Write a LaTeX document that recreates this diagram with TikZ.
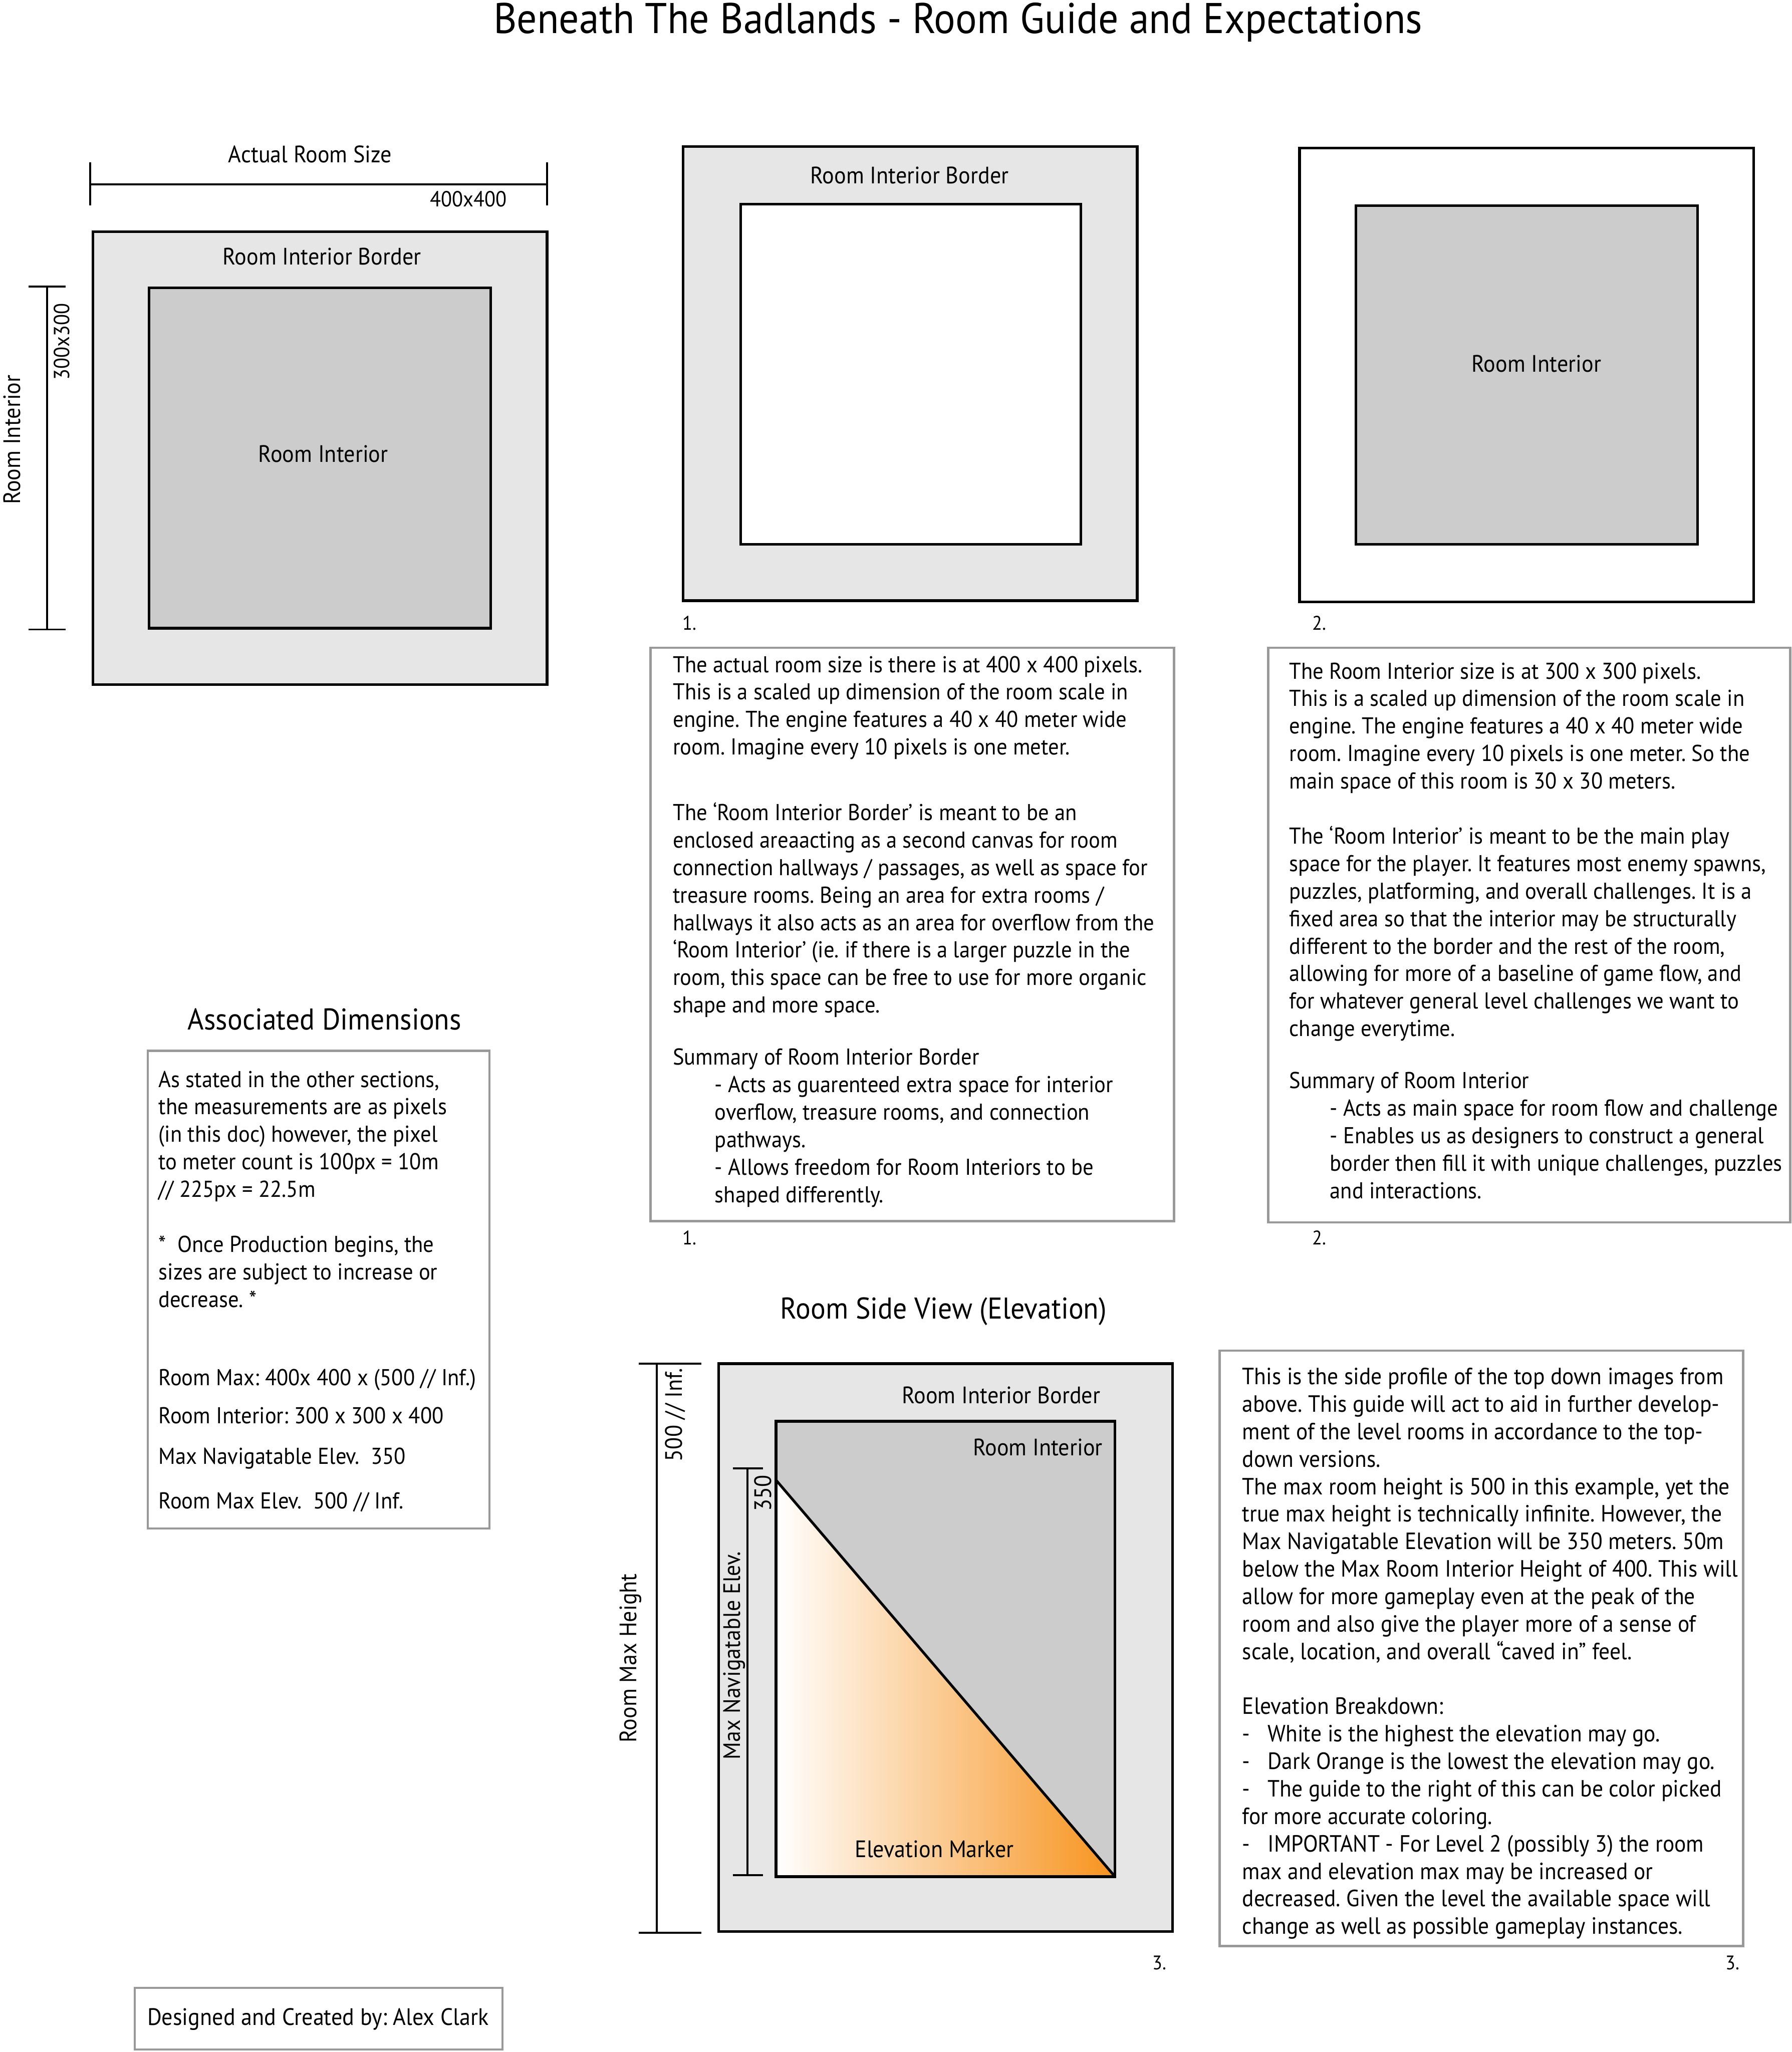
\documentclass[tikz,border=0pt]{standalone}
\usepackage{fontspec}
\setmainfont{PT Sans}[FakeStretch=0.93]
\usetikzlibrary{positioning}
\frenchspacing
\definecolor{bordgray}{HTML}{E6E6E6}
\definecolor{intgray}{HTML}{CCCCCC}
\definecolor{boxgray}{HTML}{999999}
\definecolor{elevorange}{HTML}{F7931E}
\newcommand{\bodyfont}{\fontsize{14}{16.76}\selectfont}
\newcommand{\lblfont}{\fontsize{14.5}{17}\selectfont}
\newcommand{\headfont}{\fontsize{18.3}{22}\selectfont}
\tikzset{
  room/.style={draw,line width=1.6pt},
  notebox/.style={draw=boxgray,line width=1.4pt},
  dimline/.style={line width=1.2pt},
  lbl/.style={inner sep=0,font=\lblfont},
  num/.style={inner sep=0,font=\fontsize{12}{14}\selectfont},
  para/.style={anchor=north west,align=left,inner sep=0,font=\bodyfont},
}

\begin{document}
\begin{tikzpicture}[x=0.02805cm,y=-0.02805cm]
\useasboundingbox (0,0) rectangle (1369,1568);

\node[inner sep=0,font=\fontsize{26.2}{31}\selectfont] (title) at (732,17) {Beneath The Badlands - Room Guide and Expectations};

% top down room with dimensions
\draw[dimline] (69,141) -- (418,141);
\foreach \x in {69,418}{
  \draw[dimline] (\x,124) -- (\x,157);
}
\node[lbl] (actsize) at (237,118) {Actual Room Size};
\node[lbl,font=\fontsize{13.3}{16}\selectfont] (sizea) at (358,152) {400x400};
\draw[dimline] (36,219) -- (36,481);
\foreach \y in {219,481}{
  \draw[dimline] (22,\y) -- (50,\y);
}
\node[lbl,rotate=90,font=\fontsize{13.3}{16}\selectfont] (sizeb) at (47,261) {300x300};
\node[lbl,rotate=90] (intside) at (9,336) {Room Interior};
\draw[room,fill=bordgray] (71,177) rectangle (418,523);
\draw[room,fill=intgray] (114,220) rectangle (375,480);
\node[lbl] (bordA) at (246,196) {Room Interior Border};
\node[lbl] (intA) at (247,347) {Room Interior};

% panel 1 and 2
\draw[room,fill=bordgray] (522,112) rectangle (869,459);
\draw[room,fill=white] (566,156) rectangle (826,416);
\node[lbl] (bordB) at (695,134) {Room Interior Border};
\draw[room,fill=white] (993,113) rectangle (1340,460);
\draw[room,fill=intgray] (1036,157) rectangle (1297,416);
\node[lbl] (intC) at (1174,278) {Room Interior};
\node[num] (n1a) at (527,476) {1.};
\node[num] (n2a) at (1008,476) {2.};

% text box 1
\draw[notebox] (497,495) rectangle (897,933);
\node[para] (pa) at (514,501) {The actual room size is there is at 400 x 400 pixels.\\
This is a scaled up dimension of the room scale in\\
engine. The engine features a 40 x 40 meter wide\\
room. Imagine every 10 pixels is one meter.};
\node[para] (pb) at (514,613) {The ‘Room Interior Border’ is meant to be an\\
enclosed areaacting as a second canvas for room\\
connection hallways / passages, as well as space for\\
treasure rooms. Being an area for extra rooms /\\
hallways it also acts as an area for overflow from the\\
‘Room Interior’ (ie. if there is a larger puzzle in the\\
room, this space can be free to use for more organic\\
shape and more space.};
\node[para] (pc) at (514,801) {Summary of Room Interior Border};
\node[para] (pd) at (546,822) {- Acts as guarenteed extra space for interior\\
overflow, treasure rooms, and connection\\
pathways.\\
- Allows freedom for Room Interiors to be\\
shaped differently.};
\node[num] (n1b) at (527,946) {1.};

% text box 2
\draw[notebox] (969,495) rectangle (1368,934);
\node[para] (qa) at (985,506) {The Room Interior size is at 300 x 300 pixels.\\
This is a scaled up dimension of the room scale in\\
engine. The engine features a 40 x 40 meter wide\\
room. Imagine every 10 pixels is one meter. So the\\
main space of this room is 30 x 30 meters.};
\node[para] (qb) at (985,631) {The ‘Room Interior’ is meant to be the main play\\
space for the player. It features most enemy spawns,\\
puzzles, platforming, and overall challenges. It is a\\
fixed area so that the interior may be structurally\\
different to the border and the rest of the room,\\
allowing for more of a baseline of game flow, and\\
for whatever general level challenges we want to\\
change everytime.};
\node[para] (qc) at (985,819) {Summary of Room Interior};
\node[para] (qd) at (1016,840) {- Acts as main space for room flow and challenge\\
- Enables us as designers to construct a general\\
border then fill it with unique challenges, puzzles\\
and interactions.};
\node[num] (n2b) at (1008,946) {2.};

% associated dimensions
\node[inner sep=0,font=\headfont] (assoc) at (248,779) {Associated Dimensions};
\draw[notebox] (113,803) rectangle (374,1168);
\node[para] (ra) at (121,818) {As stated in the other sections,\\
the measurements are as pixels\\
(in this doc) however, the pixel\\
to meter count is 100px = 10m\\
// 225px = 22.5m};
\node[para] (rb) at (121,944) {*\ \ Once Production begins, the\\
sizes are subject to increase or\\
decrease. *};
\node[para] (rc) at (121,1046) {Room Max: 400x 400 x (500 // Inf.)};
\node[para] (rd) at (121,1075) {Room Interior: 300 x 300 x 400};
\node[para] (re) at (121,1106) {Max Navigatable Elev.\ \ 350};
\node[para] (rf) at (121,1140) {Room Max Elev.\ \ 500 // Inf.};

% side view
\node[inner sep=0,font=\headfont] (side) at (721,1002) {Room Side View (Elevation)};
\draw[room,fill=bordgray] (549,1042) rectangle (896,1476);
\draw[room,fill=intgray] (593,1086) rectangle (852,1434);
\shade[left color=white,middle color=elevorange!32,right color=elevorange] (593,1131) -- (852,1434) -- (593,1434) -- cycle;
\draw[room] (593,1131) -- (852,1434);
\draw[room] (593,1086) rectangle (852,1434);
\node[lbl] (bordD) at (765,1066) {Room Interior Border};
\node[lbl] (intD) at (793,1106) {Room Interior};
\node[lbl] (marker) at (714,1413) {Elevation Marker};
\draw[dimline] (502,1042) -- (502,1477);
\foreach \y in {1042,1477}{
  \draw[dimline] (488,\y) -- (536,\y);
}
\node[lbl,rotate=90] (maxh) at (516,1081) {500 // Inf.};
\node[lbl,rotate=90] (maxhl) at (482,1267) {Room Max Height};
\draw[dimline] (571,1122) -- (571,1433);
\foreach \y in {1122,1433}{
  \draw[dimline] (560,\y) -- (583,\y);
}
\node[lbl,rotate=90] (nav) at (583,1141) {350};
\node[lbl,rotate=90] (navl) at (561,1265) {Max Navigatable Elev.};
\node[num] (n3a) at (886,1500) {3.};

% text box 3
\draw[notebox] (932,1032) rectangle (1332,1487);
\node[para,font=\fontsize{14.3}{16.76}\selectfont] (sa) at (949,1045) {This is the side profile of the top down images from\\
above. This guide will act to aid in further develop-\\
ment of the level rooms in accordance to the top-\\
down versions.\\
The max room height is 500 in this example, yet the\\
true max height is technically infinite. However, the\\
Max Navigatable Elevation will be 350 meters. 50m\\
below the Max Room Interior Height of 400. This will\\
allow for more gameplay even at the peak of the\\
room and also give the player more of a sense of\\
scale, location, and overall “caved in” feel.};
\node[para,font=\fontsize{14.3}{16.76}\selectfont] (sb) at (949,1297) {Elevation Breakdown:\\
-\hspace{0.75em}White is the highest the elevation may go.\\
-\hspace{0.75em}Dark Orange is the lowest the elevation may go.\\
-\hspace{0.75em}The guide to the right of this can be color picked\\
for more accurate coloring.\\
-\hspace{0.75em}IMPORTANT - For Level 2 (possibly 3) the room\\
max and elevation max may be increased or\\
decreased. Given the level the available space will\\
change as well as possible gameplay instances.};
\node[num] (n3b) at (1324,1500) {3.};

% credit
\draw[notebox] (103,1519) rectangle (384,1566);
\node[lbl] (credit) at (243,1543) {Designed and Created by: Alex Clark};
\end{tikzpicture}
\end{document}
